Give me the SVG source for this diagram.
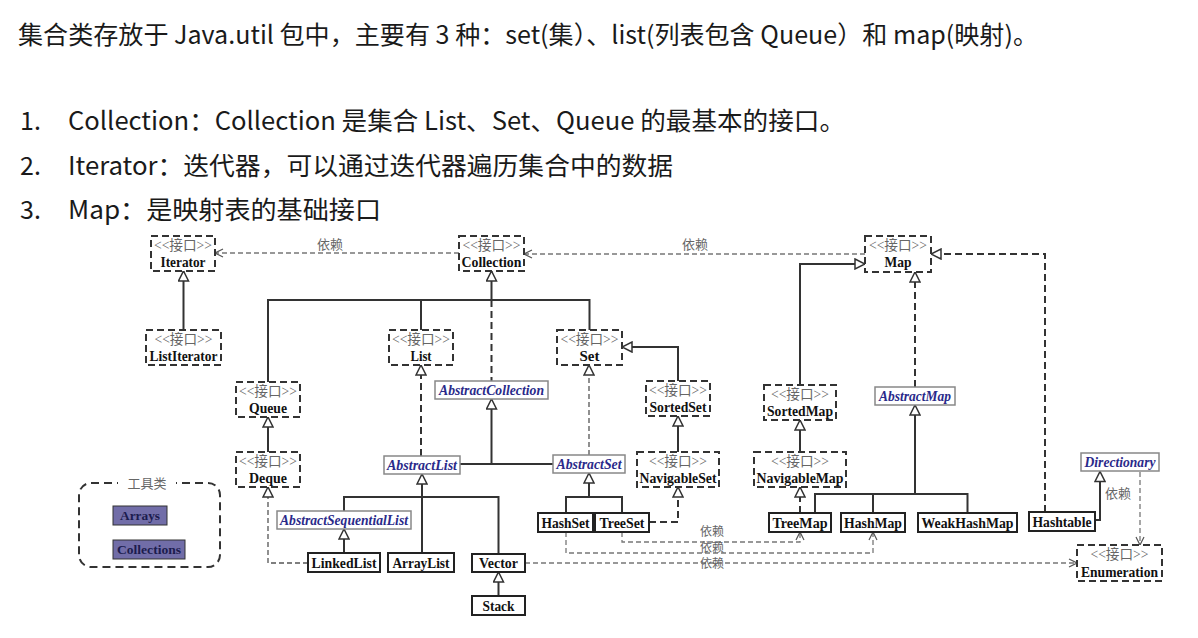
<svg xmlns="http://www.w3.org/2000/svg" width="1198" height="638" viewBox="0 0 1198 638">
<defs>
<style>
.hd{font-family:"Noto Sans CJK SC","Noto Sans",sans-serif;font-size:25px;fill:#1a1a1a}
.iface rect{fill:#fff;stroke:#333;stroke-width:2;stroke-dasharray:7 4}
.abs rect{fill:#fff;stroke:#888;stroke-width:1.5}
.cls rect{fill:#fff;stroke:#222;stroke-width:2}
.tool rect{fill:#716da8;stroke:#333;stroke-width:1}
.st{font-family:"Liberation Serif","Noto Sans CJK SC",serif;font-size:14px;fill:#666;text-anchor:middle}
.nm{font-family:"Liberation Serif",serif;font-weight:bold;font-size:14px;fill:#111;text-anchor:middle}
.an{font-family:"Liberation Serif",serif;font-weight:bold;font-style:italic;font-size:14px;fill:#2a2a8a;text-anchor:middle}
.tt{font-family:"Liberation Serif",serif;font-weight:bold;font-size:13.5px;fill:#1c1c4e;text-anchor:middle}
.lb{font-family:"Noto Sans CJK SC",sans-serif;font-size:13px;fill:#666;text-anchor:middle}
.lbs{font-family:"Noto Sans CJK SC",sans-serif;font-size:12px;fill:#666;text-anchor:middle}
.ln{fill:none;stroke:#333;stroke-width:2}
.dl{fill:none;stroke:#333;stroke-width:2;stroke-dasharray:7 4}
.dt{fill:none;stroke:#555;stroke-width:1.3;stroke-dasharray:5 3}
.dep{fill:none;stroke:#777;stroke-width:1.3;stroke-dasharray:5 3}
</style>
<marker id="tri" viewBox="0 0 12 12" refX="11" refY="6" markerWidth="12" markerHeight="12" markerUnits="userSpaceOnUse" orient="auto">
<path d="M1,1 L11,6 L1,11 Z" fill="#fff" stroke="#333" stroke-width="1.5"/>
</marker>
<marker id="arr" viewBox="0 0 10 10" refX="9" refY="5" markerWidth="10" markerHeight="10" markerUnits="userSpaceOnUse" orient="auto">
<path d="M1,1 L9,5 L1,9" fill="none" stroke="#555" stroke-width="1.2"/>
</marker>
</defs>
<rect width="1198" height="638" fill="#fff"/>

<g id="heading">
<text class="hd" x="18" y="44" textLength="1020" lengthAdjust="spacingAndGlyphs">集合类存放于 Java.util 包中，主要有 3 种：set(集）、list(列表包含 Queue）和 map(映射)。</text>
<text class="hd" x="20" y="130">1.</text>
<text class="hd" x="68" y="130" textLength="777" lengthAdjust="spacingAndGlyphs">Collection：Collection 是集合 List、Set、Queue 的最基本的接口。</text>
<text class="hd" x="20" y="175">2.</text>
<text class="hd" x="68" y="175" textLength="605" lengthAdjust="spacingAndGlyphs">Iterator：迭代器，可以通过迭代器遍历集合中的数据</text>
<text class="hd" x="20" y="219">3.</text>
<text class="hd" x="68" y="219" textLength="313" lengthAdjust="spacingAndGlyphs">Map：是映射表的基础接口</text>
</g>

<g id="connectors">
<path class="dep" d="M459,253 H215" marker-end="url(#arr)"/>
<path class="dep" d="M865,254 H524" marker-end="url(#arr)"/>
<path class="ln" d="M183.5,330 V271" marker-end="url(#tri)"/>
<path class="ln" d="M491.5,300 V271" marker-end="url(#tri)"/>
<path class="ln" d="M268,382 V300 H589.5 V330"/>
<path class="ln" d="M421,300 V330"/>
<path class="dl" d="M491.5,300 V381"/>
<path class="ln" d="M268,452 V417" marker-end="url(#tri)"/>
<path class="dt" d="M308,563 H268 V487" marker-end="url(#tri)"/>
<path class="dl" d="M421,456 V365" marker-end="url(#tri)"/>
<path class="ln" d="M460,464 H553"/>
<path class="ln" d="M491.5,464 V399" marker-end="url(#tri)"/>
<path class="dt" d="M589,455 V365" marker-end="url(#tri)"/>
<path class="ln" d="M422,553 V474" marker-end="url(#tri)"/>
<path class="ln" d="M344,511 V497 H498.5 V554"/>
<path class="ln" d="M344,553 V529" marker-end="url(#tri)"/>
<path class="ln" d="M498.5,596 V572" marker-end="url(#tri)"/>
<path class="dep" d="M525,563 H1077" marker-end="url(#arr)"/>
<path class="ln" d="M589,497 V473" marker-end="url(#tri)"/>
<path class="ln" d="M566,513 V497 H622 V513"/>
<path class="dl" d="M649,522 H678 V487" marker-end="url(#tri)"/>
<path class="ln" d="M678,452 V416" marker-end="url(#tri)"/>
<path class="ln" d="M678,381 V347 H622" marker-end="url(#tri)"/>
<path class="dep" d="M622,532 V542 H800 V532" marker-end="url(#arr)"/>
<path class="dep" d="M566,532 V553 H873 V532" marker-end="url(#arr)"/>
<path class="ln" d="M800,385 V264 H865" marker-end="url(#tri)"/>
<path class="ln" d="M800,452 V420" marker-end="url(#tri)"/>
<path class="dl" d="M800,513 V487" marker-end="url(#tri)"/>
<path class="dl" d="M915,387 V272" marker-end="url(#tri)"/>
<path class="ln" d="M915,494 V405" marker-end="url(#tri)"/>
<path class="ln" d="M815,513 V494 H967.5 V513"/>
<path class="ln" d="M873,494 V513"/>
<path class="dl" d="M1045,512 V254 H931" marker-end="url(#tri)"/>
<path class="ln" d="M1095,520 H1100 V471.5" marker-end="url(#tri)"/>
<path class="dep" d="M1140,472 V545" marker-end="url(#arr)"/>
<text class="lb" x="330" y="249">依赖</text>
<text class="lb" x="695" y="249">依赖</text>
<text class="lbs" x="712" y="536">依赖</text>
<text class="lbs" x="712" y="552">依赖</text>
<text class="lbs" x="712" y="568">依赖</text>
<text class="lb" x="1118" y="498">依赖</text>
</g>

<g id="Iterator" class="iface"><rect x="151" y="236" width="64" height="35"/><text class="st" x="183" y="250" textLength="58" lengthAdjust="spacingAndGlyphs">&lt;&lt;接口&gt;&gt;</text><text class="nm" x="183" y="267" textLength="45" lengthAdjust="spacingAndGlyphs">Iterator</text></g>
<g id="Collection" class="iface"><rect x="459" y="236" width="65" height="35"/><text class="st" x="491.5" y="250" textLength="58" lengthAdjust="spacingAndGlyphs">&lt;&lt;接口&gt;&gt;</text><text class="nm" x="491.5" y="267" textLength="60" lengthAdjust="spacingAndGlyphs">Collection</text></g>
<g id="Map" class="iface"><rect x="865" y="236" width="66" height="36"/><text class="st" x="898" y="250" textLength="58" lengthAdjust="spacingAndGlyphs">&lt;&lt;接口&gt;&gt;</text><text class="nm" x="898" y="267" textLength="27" lengthAdjust="spacingAndGlyphs">Map</text></g>
<g id="ListIterator" class="iface"><rect x="146" y="330" width="75" height="35"/><text class="st" x="183.5" y="344" textLength="58" lengthAdjust="spacingAndGlyphs">&lt;&lt;接口&gt;&gt;</text><text class="nm" x="183.5" y="361" textLength="68" lengthAdjust="spacingAndGlyphs">ListIterator</text></g>
<g id="List" class="iface"><rect x="389" y="330" width="64" height="35"/><text class="st" x="421" y="344" textLength="58" lengthAdjust="spacingAndGlyphs">&lt;&lt;接口&gt;&gt;</text><text class="nm" x="421" y="361" textLength="21" lengthAdjust="spacingAndGlyphs">List</text></g>
<g id="Set" class="iface"><rect x="557" y="330" width="65" height="35"/><text class="st" x="589.5" y="344" textLength="58" lengthAdjust="spacingAndGlyphs">&lt;&lt;接口&gt;&gt;</text><text class="nm" x="589.5" y="361" textLength="20" lengthAdjust="spacingAndGlyphs">Set</text></g>
<g id="Queue" class="iface"><rect x="236" y="382" width="64" height="35"/><text class="st" x="268" y="396" textLength="58" lengthAdjust="spacingAndGlyphs">&lt;&lt;接口&gt;&gt;</text><text class="nm" x="268" y="413" textLength="38" lengthAdjust="spacingAndGlyphs">Queue</text></g>
<g id="SortedSet" class="iface"><rect x="646" y="381" width="64" height="35"/><text class="st" x="678" y="395" textLength="58" lengthAdjust="spacingAndGlyphs">&lt;&lt;接口&gt;&gt;</text><text class="nm" x="678" y="412" textLength="57" lengthAdjust="spacingAndGlyphs">SortedSet</text></g>
<g id="SortedMap" class="iface"><rect x="764" y="385" width="72" height="35"/><text class="st" x="800" y="399" textLength="58" lengthAdjust="spacingAndGlyphs">&lt;&lt;接口&gt;&gt;</text><text class="nm" x="800" y="416" textLength="66" lengthAdjust="spacingAndGlyphs">SortedMap</text></g>
<g id="Deque" class="iface"><rect x="236" y="452" width="64" height="35"/><text class="st" x="268" y="466" textLength="58" lengthAdjust="spacingAndGlyphs">&lt;&lt;接口&gt;&gt;</text><text class="nm" x="268" y="483" textLength="38" lengthAdjust="spacingAndGlyphs">Deque</text></g>
<g id="NavigableSet" class="iface"><rect x="637" y="452" width="82" height="35"/><text class="st" x="678" y="466" textLength="58" lengthAdjust="spacingAndGlyphs">&lt;&lt;接口&gt;&gt;</text><text class="nm" x="678" y="483" textLength="77" lengthAdjust="spacingAndGlyphs">NavigableSet</text></g>
<g id="NavigableMap" class="iface"><rect x="754" y="452" width="92" height="35"/><text class="st" x="800" y="466" textLength="58" lengthAdjust="spacingAndGlyphs">&lt;&lt;接口&gt;&gt;</text><text class="nm" x="800" y="483" textLength="87" lengthAdjust="spacingAndGlyphs">NavigableMap</text></g>
<g id="Enumeration" class="iface"><rect x="1077" y="545" width="85" height="36"/><text class="st" x="1119.5" y="559" textLength="58" lengthAdjust="spacingAndGlyphs">&lt;&lt;接口&gt;&gt;</text><text class="nm" x="1119.5" y="577" textLength="77" lengthAdjust="spacingAndGlyphs">Enumeration</text></g>

<g id="AbstractCollection" class="abs"><rect x="435" y="381" width="113" height="18"/><text class="an" x="491.5" y="395" textLength="105" lengthAdjust="spacingAndGlyphs">AbstractCollection</text></g>
<g id="AbstractMap" class="abs"><rect x="875" y="387" width="80" height="18"/><text class="an" x="915" y="401" textLength="72" lengthAdjust="spacingAndGlyphs">AbstractMap</text></g>
<g id="AbstractList" class="abs"><rect x="384" y="456" width="76" height="18"/><text class="an" x="422" y="470" textLength="70" lengthAdjust="spacingAndGlyphs">AbstractList</text></g>
<g id="AbstractSet" class="abs"><rect x="553" y="455" width="72" height="18"/><text class="an" x="589" y="469" textLength="65" lengthAdjust="spacingAndGlyphs">AbstractSet</text></g>
<g id="Directionary" class="abs"><rect x="1081" y="453" width="78" height="18"/><text class="an" x="1120" y="467" textLength="71" lengthAdjust="spacingAndGlyphs">Directionary</text></g>
<g id="AbstractSequentialList" class="abs"><rect x="277" y="511" width="134" height="18"/><text class="an" x="344" y="525" textLength="128" lengthAdjust="spacingAndGlyphs">AbstractSequentialList</text></g>

<g id="HashSet" class="cls"><rect x="538" y="513" width="55" height="19"/><text class="nm" x="565.5" y="527.5" textLength="48" lengthAdjust="spacingAndGlyphs">HashSet</text></g>
<g id="TreeSet" class="cls"><rect x="595" y="513" width="54" height="19"/><text class="nm" x="622" y="527.5" textLength="45" lengthAdjust="spacingAndGlyphs">TreeSet</text></g>
<g id="TreeMap" class="cls"><rect x="769" y="513" width="62" height="19"/><text class="nm" x="800" y="527.5" textLength="55" lengthAdjust="spacingAndGlyphs">TreeMap</text></g>
<g id="HashMap" class="cls"><rect x="841" y="513" width="64" height="19"/><text class="nm" x="873" y="527.5" textLength="58" lengthAdjust="spacingAndGlyphs">HashMap</text></g>
<g id="WeakHashMap" class="cls"><rect x="918" y="513" width="99" height="19"/><text class="nm" x="967.5" y="527.5" textLength="92" lengthAdjust="spacingAndGlyphs">WeakHashMap</text></g>
<g id="Hashtable" class="cls"><rect x="1029" y="512" width="66" height="19"/><text class="nm" x="1062" y="526.5" textLength="59" lengthAdjust="spacingAndGlyphs">Hashtable</text></g>
<g id="LinkedList" class="cls"><rect x="308" y="553" width="72" height="19"/><text class="nm" x="344" y="567.5" textLength="65" lengthAdjust="spacingAndGlyphs">LinkedList</text></g>
<g id="ArrayList" class="cls"><rect x="388" y="553" width="66" height="19"/><text class="nm" x="421" y="567.5" textLength="57" lengthAdjust="spacingAndGlyphs">ArrayList</text></g>
<g id="Vector" class="cls"><rect x="472" y="554" width="53" height="18"/><text class="nm" x="498.5" y="568" textLength="39" lengthAdjust="spacingAndGlyphs">Vector</text></g>
<g id="Stack" class="cls"><rect x="472" y="596" width="53" height="19"/><text class="nm" x="498.5" y="610.5" textLength="32" lengthAdjust="spacingAndGlyphs">Stack</text></g>

<g id="tools">
<rect x="79" y="483" width="141" height="84" rx="12" fill="none" stroke="#333" stroke-width="2" stroke-dasharray="8 5"/>
<rect x="118" y="475" width="58" height="16" fill="#fff"/>
<text class="lb" x="147" y="488">工具类</text>
</g>
<g id="Arrays" class="tool"><rect x="113" y="506" width="54" height="19"/><text class="tt" x="140" y="520" textLength="40" lengthAdjust="spacingAndGlyphs">Arrays</text></g>
<g id="Collections" class="tool"><rect x="113" y="540" width="72" height="19"/><text class="tt" x="149" y="554" textLength="64" lengthAdjust="spacingAndGlyphs">Collections</text></g>
</svg>
